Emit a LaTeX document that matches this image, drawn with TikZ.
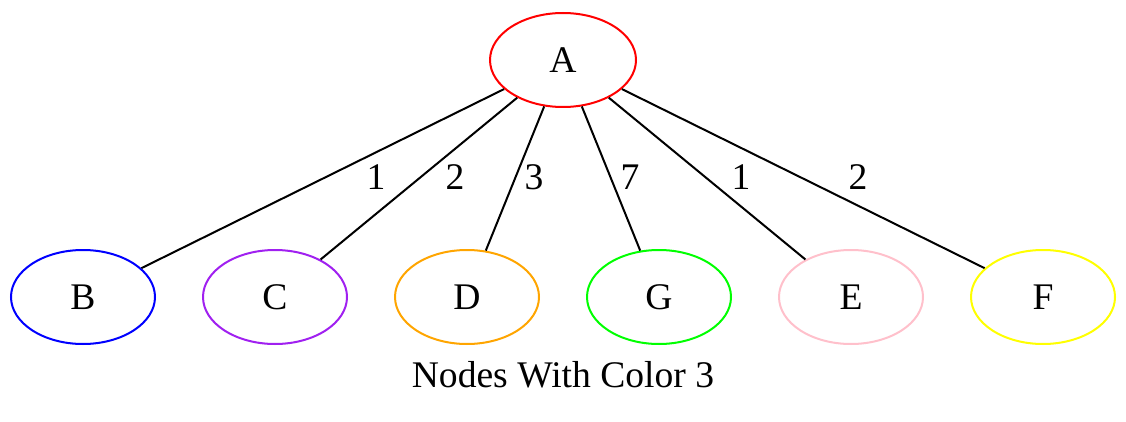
\documentclass[tikz,border=0pt]{standalone}
\usepackage{fontspec}
\setmainfont{Liberation Serif}
\usetikzlibrary{shapes.geometric}
\definecolor{gvpurple}{HTML}{A020F0}
\definecolor{gvorange}{HTML}{FFA500}
\definecolor{gvgreen}{HTML}{00FF00}
\definecolor{gvpink}{HTML}{FFC0CB}
\definecolor{gvyellow}{HTML}{FFFF00}
\begin{document}
\begin{tikzpicture}[x=1pt,y=-1pt,
  every node/.style={font=\fontsize{37.6}{45}\selectfont},
  gvnode/.style={ellipse,draw,line width=2pt,minimum width=144pt,minimum height=94pt,inner sep=0pt},
  gvedge/.style={draw,line width=2pt},
  elabel/.style={inner sep=0pt}]
\useasboundingbox (0,0) rectangle (1126,422);
\node[gvnode,draw=red,minimum width=146pt] (A) at (563,60) {A};
\node[gvnode,draw=blue] (B) at (83,297) {B};
\node[gvnode,draw=gvpurple] (C) at (275,297) {C};
\node[gvnode,draw=gvorange] (D) at (467,297) {D};
\node[gvnode,draw=gvgreen] (G) at (659,297) {G};
\node[gvnode,draw=gvpink] (E) at (851,297) {E};
\node[gvnode,draw=gvyellow] (F) at (1043,297) {F};
\draw[gvedge] (A) -- (B);
\draw[gvedge] (A) -- (C);
\draw[gvedge] (A) -- (D);
\draw[gvedge] (A) -- (G);
\draw[gvedge] (A) -- (E);
\draw[gvedge] (A) -- (F);
\node[elabel] (lB) at (376,177) {1};
\node[elabel] (lC) at (455,177) {2};
\node[elabel] (lD) at (534,177) {3};
\node[elabel] (lG) at (630,177) {7};
\node[elabel] (lE) at (741,177) {1};
\node[elabel] (lF) at (858,177) {2};
\node[inner sep=0pt] (cap) at (563,375) {Nodes With Color 3};
\end{tikzpicture}
\end{document}
